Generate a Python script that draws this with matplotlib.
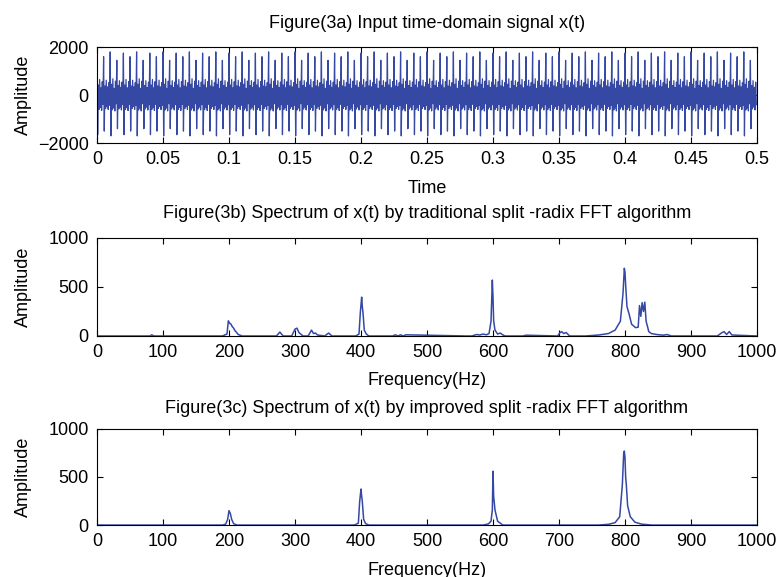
# Recreate Figure 3: time-domain signal and two FFT spectra
import numpy as np
import matplotlib.pyplot as plt

plt.rcParams['font.family'] = ['Liberation Sans', 'DejaVu Sans']

fs = 2000
duration = 0.5
x_pattern = [1750, -1650, 420, -600, 650, -520, 300, -640, 560, -380,
             1600, -1500, 380, -560, 620, -480, 340, -600, 520, -420,
             1800, -1700, 450, -620, 680, -540, 280, -660, 580, -360,
             1450, -1400, 400, -580, 600, -500, 320, -620, 540, -400]

# Spectrum (3b) traditional split-radix: (frequency Hz, amplitude) points
freq_b = [0, 80, 83, 86, 190, 197, 199, 201, 203, 205, 207, 209, 211, 214, 220,
          272, 277, 282, 295, 300, 303, 306, 312, 320, 325, 328, 331, 334, 345, 351, 356,
          392, 397, 399, 401, 402, 403, 405, 408, 412, 448, 452, 456, 460, 464, 468,
          560, 568, 575, 580, 585, 590, 594, 597, 599, 600, 601, 603, 607, 611, 614, 618, 625,
          645, 650, 698, 701, 704, 707, 711, 716, 740, 760, 775, 785, 793, 797, 799, 800, 801,
          803, 806, 810, 816, 820, 822, 824, 826, 828, 830, 832, 834, 836, 840, 848, 858,
          864, 870, 940, 946, 950, 954, 958, 962, 1000]
amp_b = [0, 0, 12, 0, 0, 20, 155, 130, 120, 95, 80, 55, 40, 15, 0,
         0, 40, 0, 0, 70, 80, 35, 0, 0, 60, 25, 30, 10, 0, 30, 0,
         0, 20, 240, 396, 300, 240, 60, 20, 0, 0, 12, 0, 12, 0, 12,
         0, 0, 15, 10, 20, 12, 25, 150, 570, 400, 155, 60, 20, 30, 15, 0, 0,
         0, 8, 0, 30, 45, 25, 35, 0, 0, 10, 25, 60, 150, 435, 690, 650, 520,
         300, 230, 120, 85, 90, 310, 200, 340, 250, 345, 150, 100, 45, 25, 15, 8,
         15, 0, 0, 30, 45, 15, 45, 10, 0]

# Spectrum (3c) improved split-radix
freq_c = [0, 190, 195, 198, 200, 202, 204, 207, 212, 390, 396, 398, 400, 401, 402, 404, 407, 412,
          585, 593, 597, 599, 600, 601, 603, 607, 615, 760, 775, 785, 792, 796, 798, 799, 800, 801,
          802, 804, 808, 815, 825, 840, 1000]
amp_c = [0, 0, 10, 60, 150, 120, 60, 15, 0, 0, 20, 245, 374, 300, 245, 60, 15, 0,
         0, 12, 40, 157, 559, 300, 157, 40, 0, 0, 8, 25, 87, 420, 740, 768, 700, 500,
         420, 200, 87, 30, 10, 0, 0]

t = np.arange(int(fs * duration)) / fs
x = np.tile(x_pattern, len(t) // len(x_pattern) + 1)[:len(t)]

line_color = '#3448a4'
fs_txt = 13
fig = plt.figure(figsize=(7.76, 5.77), dpi=100)

ax1 = fig.add_axes([0.125, 0.752, 0.8505, 0.1664])
ax2 = fig.add_axes([0.125, 0.4177, 0.8505, 0.170])
ax3 = fig.add_axes([0.125, 0.090, 0.8505, 0.167])

ax1.plot(t, x, color=line_color, linewidth=0.9)
ax1.set_xlim(0, 0.5)
ax1.set_ylim(-2000, 2000)
ax1.set_xticks(np.arange(0, 0.51, 0.05))
ax1.set_xticklabels(['0', '0.05', '0.1', '0.15', '0.2', '0.25', '0.3', '0.35', '0.4', '0.45', '0.5'])
ax1.set_yticks([-2000, 0, 2000])
ax1.set_title('Figure(3a) Input time-domain signal x(t)', fontsize=fs_txt, pad=14)
ax1.set_xlabel('Time', fontsize=fs_txt, labelpad=8)
ax1.set_ylabel('Amplitude', fontsize=fs_txt, labelpad=4)

ax2.plot(freq_b, amp_b, color=line_color, linewidth=1.1)
ax2.set_title('Figure(3b) Spectrum of x(t) by traditional split -radix FFT algorithm',
              fontsize=fs_txt, pad=14)

ax3.plot(freq_c, amp_c, color=line_color, linewidth=1.1)
ax3.set_title('Figure(3c) Spectrum of x(t) by improved split -radix FFT algorithm',
              fontsize=fs_txt, pad=11)

for ax in (ax2, ax3):
    ax.set_xlim(0, 1000)
    ax.set_ylim(0, 1000)
    ax.set_xticks(np.arange(0, 1001, 100))
    ax.set_yticks([0, 500, 1000])
    ax.set_xlabel('Frequency(Hz)', fontsize=fs_txt, labelpad=8)
    ax.set_ylabel('Amplitude', fontsize=fs_txt, labelpad=12)

for ax in (ax1, ax2, ax3):
    ax.tick_params(direction='in', top=True, right=True, labelsize=fs_txt, length=4, pad=6)
    for s in ax.spines.values():
        s.set_linewidth(0.8)

fig.savefig('out.png', dpi=100)
